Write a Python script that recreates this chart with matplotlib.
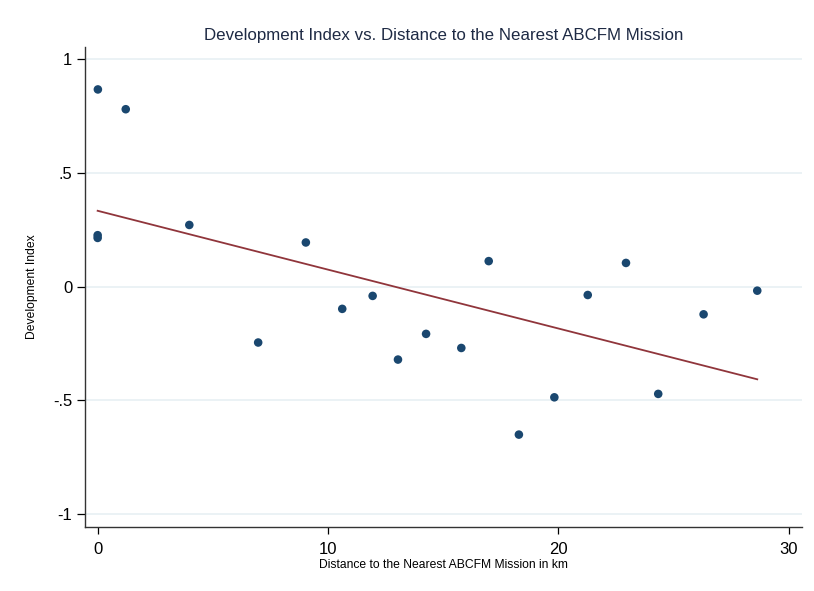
import matplotlib
matplotlib.use("Agg")
import matplotlib.pyplot as plt
import numpy as np

# distance to nearest ABCFM mission (km) and development index
distance = [0.01, 1.22, 0.0, 0.0, 3.98, 9.04, 6.97, 10.62, 11.94, 13.04,
            14.26, 15.79, 16.98, 18.29, 19.83, 21.28, 22.94, 24.34, 26.31, 28.64]
dev_index = [0.867, 0.780, 0.226, 0.214, 0.271, 0.194, -0.246, -0.098, -0.041, -0.321,
             -0.208, -0.270, 0.112, -0.651, -0.487, -0.037, 0.104, -0.472, -0.122, -0.018]

x_ticks = [0, 10, 20, 30]
y_ticks = [-1, -0.5, 0, 0.5, 1]
y_ticklabels = ['-1', '-.5', '0', '.5', '1']

plt.rcParams['font.family'] = ['Liberation Sans', 'DejaVu Sans']

fig = plt.figure(figsize=(8.14, 5.91), dpi=100)
ax = fig.add_axes([0.1044, 0.1088, 0.8805, 0.8122])

x = np.array(distance)
y = np.array(dev_index)

# linear fit line (like Stata lfit)
slope, intercept = np.polyfit(x, y, 1)
xs = np.array([x.min(), x.max()])
ax.plot(xs, intercept + slope * xs, color='#90353b', lw=1.3, zorder=2)

ax.scatter(x, y, s=38, color='#1a476f', edgecolors='none', zorder=3)

ax.set_xlim(-0.55, 30.57)
ax.set_ylim(-1.056, 1.055)
ax.set_xticks(x_ticks)
ax.set_yticks(y_ticks)
ax.set_yticklabels(y_ticklabels)
ax.tick_params(axis='both', labelsize=12, colors='black', width=0.9)
ax.tick_params(axis='x', length=5, pad=6)
ax.tick_params(axis='y', length=6, pad=3)

ax.grid(axis='y', color='#e8f0f3', lw=1.2, zorder=0)
ax.set_axisbelow(True)

for s in ['top', 'right']:
    ax.spines[s].set_visible(False)
for s in ['left', 'bottom']:
    ax.spines[s].set_linewidth(1.0)
    ax.spines[s].set_color('#333333')

ax.set_title('Development Index vs. Distance to the Nearest ABCFM Mission',
             fontsize=12.2, color='#1e2a44', pad=5)
ax.set_xlabel('Distance to the Nearest ABCFM Mission in km', fontsize=8.7)
ax.set_ylabel('Development Index', fontsize=8.7)
ax.xaxis.set_label_coords(0.5, -0.068)
ax.yaxis.set_label_coords(-0.0656, 0.5)

fig.savefig('out.png', dpi=100, facecolor='white')
